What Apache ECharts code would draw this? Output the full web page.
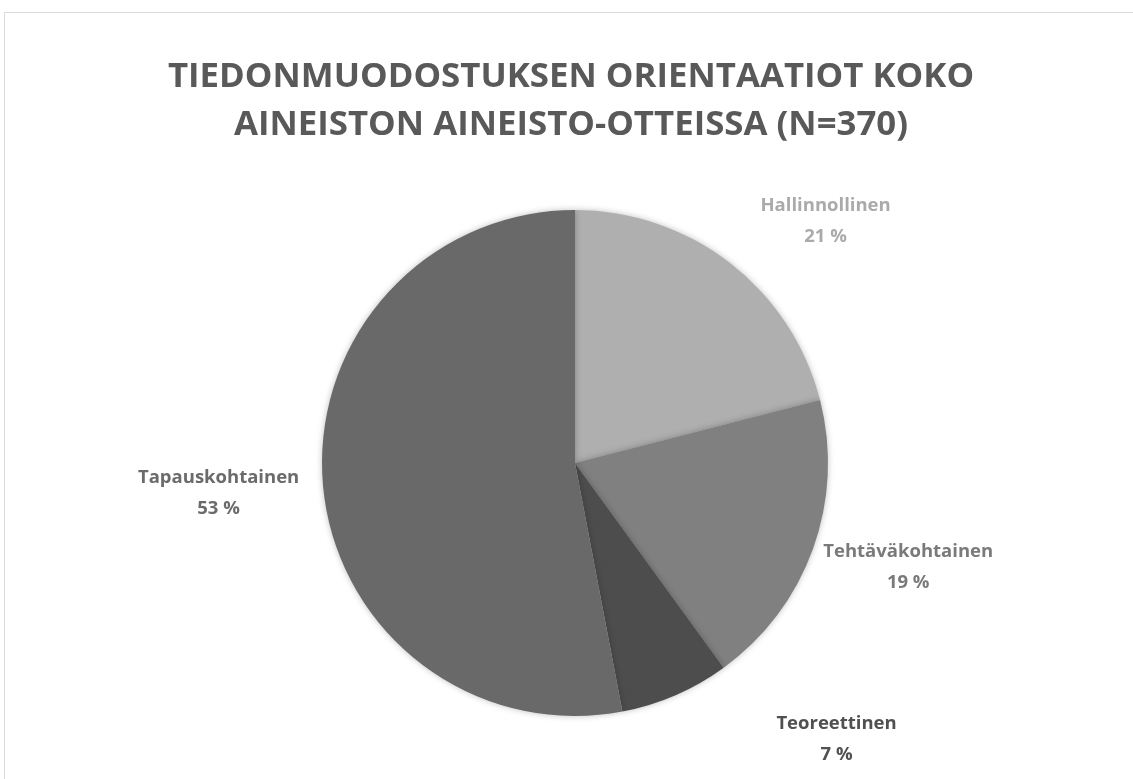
<!DOCTYPE html>
<html>
<head>
<meta charset="utf-8">
<script src="https://cdn.jsdelivr.net/npm/echarts@6/dist/echarts.min.js"></script>
<style>html,body{margin:0;padding:0;background:#fff;}#c{width:1133px;height:779px;}</style>
</head>
<body>
<div id="c"></div>
<script>
var titleText = 'TIEDONMUODOSTUKSEN ORIENTAATIOT KOKO\nAINEISTON AINEISTO-OTTEISSA (N=370)';
var categories = ['Hallinnollinen', 'Tehtäväkohtainen', 'Teoreettinen', 'Tapauskohtainen'];
var percents = [21, 19, 7, 53];
var colors = ['#afafaf', '#808080', '#4d4d4d', '#696969'];
var labelColors = ['#aaaaaa', '#7a7a7a', '#505050', '#6b6b6b'];
var labelOffsets = [[7, -18], [-23, 8], [84, 17], [11, 4]];

var chart = echarts.init(document.getElementById('c'), null, {renderer: 'canvas'});
var data = categories.map(function (c, i) {
  return {
    name: c,
    value: percents[i],
    itemStyle: {color: colors[i]},
    label: {color: labelColors[i], offset: labelOffsets[i]}
  };
});
chart.setOption({
  backgroundColor: '#ffffff',
  animation: false,
  graphic: [{
    type: 'rect',
    shape: {x: 4.5, y: 12.5, width: 1140, height: 800},
    style: {fill: 'none', stroke: '#d9d9d9', lineWidth: 1},
    silent: true
  }],
  title: {
    text: titleText,
    left: 566,
    top: 48,
    textAlign: 'center',
    textStyle: {
      fontFamily: "'Open Sans', sans-serif",
      fontWeight: 'bold',
      fontSize: 34.8,
      lineHeight: 48,
      color: '#595959'
    }
  },
  series: [{
    type: 'pie',
    center: [575, 463],
    radius: [0, 253],
    startAngle: 90,
    clockwise: true,
    data: data,
    itemStyle: {borderWidth: 0, shadowBlur: 6, shadowColor: 'rgba(0,0,0,0.25)'},
    label: {
      show: true,
      position: 'outside',
      formatter: function (p) { return p.name + '\n' + p.value + ' %'; },
      fontFamily: "'Open Sans', sans-serif",
      fontWeight: 'bold',
      fontSize: 18.5,
      lineHeight: 31
    },
    labelLine: {show: false, length: 30, length2: 0},
    labelLayout: function (params) {
      var r = params.labelRect;
      return {x: r.x + r.width / 2, y: r.y + r.height / 2, align: 'center', verticalAlign: 'middle'};
    }
  }]
});
</script>
</body>
</html>
